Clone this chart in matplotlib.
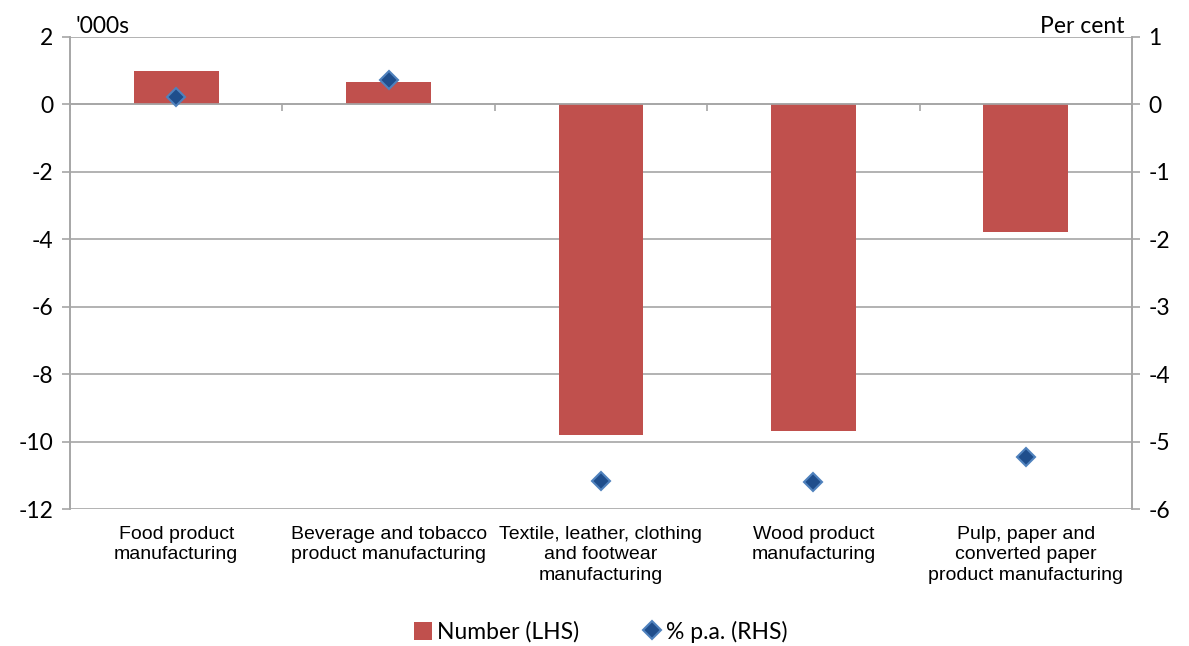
import matplotlib
matplotlib.use("Agg")
import matplotlib.pyplot as plt
import numpy as np
from matplotlib.lines import Line2D
from matplotlib.patches import Patch
import matplotlib.transforms as mtransforms

plt.rcParams["axes.unicode_minus"] = False

# %% Data

categories = ["Food product\nmanufacturing",
              "Beverage and tobacco\nproduct manufacturing",
              "Textile, leather, clothing\nand footwear\nmanufacturing",
              "Wood product\nmanufacturing",
              "Pulp, paper and\nconverted paper\nproduct manufacturing"]
number_lhs = [0.99, 0.66, -9.81, -9.69, -3.8]     # '000s
pct_rhs = [0.11, 0.36, -5.58, -5.6, -5.23]        # per cent p.a.

left_ticks = [2, 0, -2, -4, -6, -8, -10, -12]
right_ticks = [1, 0, -1, -2, -3, -4, -5, -6]

# %% Style

bar_col = "#C0504D"
dia_face = "#1F4E8C"
dia_edge = "#4F81BD"
grid_col = "#A6A6A6"
tick_font = "Lato"
cat_font = "Liberation Sans"
tick_size = 16.5

fig = plt.figure(figsize=(11.89, 6.46), dpi=100)
ax1 = fig.add_axes([0.0589, 0.212, 0.8931, 0.731])
ax2 = ax1.twinx()

x = np.arange(len(categories))

ax1.bar(x, number_lhs, width=0.4, color=bar_col, zorder=2)
ax1.set_ylim(-12, 2)
ax1.set_yticks(left_ticks)
ax1.set_xlim(-0.5, len(categories) - 0.5)
ax1.yaxis.grid(True, color=grid_col, linewidth=1.2, zorder=0)
ax1.set_axisbelow(True)

ax2.plot(x, pct_rhs, linestyle="none", marker="D", markersize=9,
         markerfacecolor=dia_face, markeredgecolor=dia_edge,
         markeredgewidth=1.5, zorder=3)
ax2.set_ylim(-6, 1)
ax2.set_yticks(right_ticks)

for a in (ax1, ax2):
    a.spines["top"].set_visible(False)
    a.spines["left"].set_color(grid_col)
    a.spines["right"].set_color(grid_col)
    a.spines["left"].set_linewidth(1.2)
    a.spines["right"].set_linewidth(1.2)
    a.tick_params(axis="y", colors=grid_col, length=6, width=1.2,
                  labelcolor="black", labelsize=tick_size, pad=6)
    for lab in a.get_yticklabels():
        lab.set_fontfamily(tick_font)

# category axis crosses at zero, ticks between categories
ax1.spines["bottom"].set_position(("data", 0))
ax1.spines["bottom"].set_color(grid_col)
ax1.spines["bottom"].set_linewidth(1.2)
ax2.spines["bottom"].set_visible(False)
ax1.set_xticks(np.arange(len(categories) + 1) - 0.5)
ax1.tick_params(axis="x", colors=grid_col, length=5, width=1.2,
                labelbottom=False)

trans = mtransforms.blended_transform_factory(ax1.transData, ax1.transAxes)
for xi, name in zip(x, categories):
    ax1.text(xi, -0.035, name, transform=trans, ha="center", va="top",
             fontsize=14, family=cat_font, linespacing=1.3)

ax1.text(0.005, 1.0, "'000s", transform=ax1.transAxes, ha="left",
         va="bottom", fontsize=tick_size, family=tick_font)
ax1.text(0.993, 1.0, "Per cent", transform=ax1.transAxes, ha="right",
         va="bottom", fontsize=tick_size, family=tick_font)

handles = [Patch(facecolor=bar_col, label="Number (LHS)"),
           Line2D([], [], linestyle="none", marker="D", markersize=9,
                  markerfacecolor=dia_face, markeredgecolor=dia_edge,
                  markeredgewidth=1.5, label="% p.a. (RHS)")]
fig.legend(handles=handles, loc="center", bbox_to_anchor=(0.505, 0.022),
           ncol=2, frameon=False, prop={"family": tick_font, "size": tick_size},
           handlelength=0.8, handleheight=0.8, handletextpad=0.2,
           columnspacing=2.8)

fig.savefig("out.png", dpi=100)
